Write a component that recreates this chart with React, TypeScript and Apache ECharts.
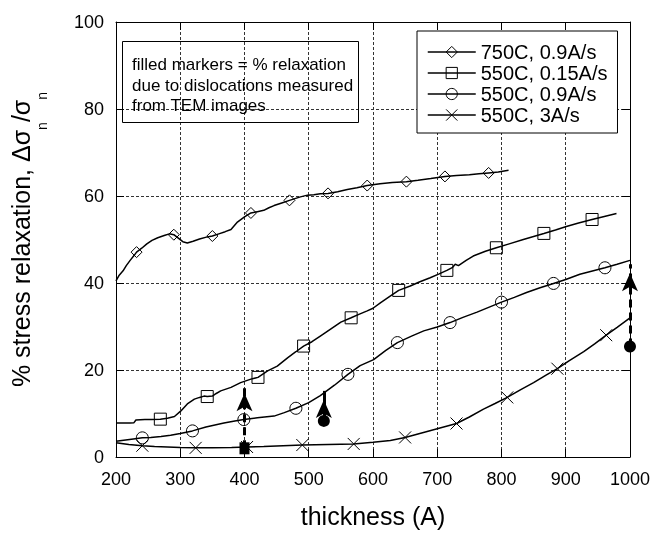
import React, { useEffect, useRef } from 'react';
import * as echarts from 'echarts';

const FONT = 'Liberation Sans, Arial, Helvetica, sans-serif';

// axes
const xMin = 200, xMax = 1000, xStep = 100;
const yMin = 0, yMax = 100, yStep = 20;
const xTitle = 'thickness (A)';
const yTitleRich = '{a|% stress relaxation, Δσ}{s|n}{a|/σ}{s|n}';

const seriesNames = ['750C, 0.9A/s', '550C, 0.15A/s', '550C, 0.9A/s', '550C, 3A/s'];
const seriesSymbols = ['diamond', 'rect', 'circle', 'path://M0,0L12,12M12,0L0,12'];
const seriesSymbolSizes = [11, 12, 12, 12];

// 750C, 0.9A/s
const curve750: number[][] = [
  [200, 40.5], [205, 41.8], [211, 42.8], [216, 44.0], [222, 45.2], [228, 46.3], [232, 47.1], [240, 48.0],
  [248, 49.0], [256, 49.8], [265, 50.4], [275, 50.9], [283, 51.3], [290, 51.1], [297, 50.3], [304, 49.5],
  [311, 49.2], [320, 49.6], [330, 50.1], [342, 50.6], [350, 50.8], [360, 51.3], [370, 51.8], [379, 52.3],
  [389, 54.0], [400, 55.2], [410, 56.1], [420, 56.4], [430, 56.7], [438, 57.3], [446, 57.8], [458, 58.4],
  [470, 59.0], [487, 59.8], [498, 60.2], [508, 60.3], [518, 60.5], [530, 60.6], [545, 61.0], [560, 61.5],
  [575, 61.9], [591, 62.4], [611, 62.8], [630, 63.1], [652, 63.3], [670, 63.6], [690, 64.0], [712, 64.5],
  [730, 64.7], [750, 64.9], [765, 65.1], [780, 65.3], [795, 65.5], [811, 65.9],
];
const markers750: number[][] = [
  [232, 47.1], [290, 51.1], [350, 50.8], [410, 56.1], [470, 59.0], [530, 60.6], [591, 62.4], [652, 63.3],
  [712, 64.5], [780, 65.3],
];

// 550C, 0.15A/s
const curve550slow: number[][] = [
  [200, 7.8], [210, 7.8], [222, 7.8], [228, 7.9], [231, 8.5], [245, 8.6], [255, 8.6], [269, 8.7], [280, 8.9],
  [291, 9.3], [301, 10.6], [311, 12.2], [322, 13.3], [330, 13.7], [337, 14.0], [342, 13.9], [350, 14.0],
  [356, 14.6], [363, 15.2], [379, 16.0], [394, 17.1], [410, 17.9], [421, 18.3], [436, 19.8], [451, 20.9],
  [467, 22.8], [480, 24.2], [492, 25.5], [505, 26.5], [518, 27.8], [534, 29.4], [550, 31.0], [566, 32.0],
  [578, 32.8], [591, 33.6], [600, 34.2], [612, 35.5], [625, 36.8], [640, 38.3], [658, 39.3], [673, 40.3],
  [689, 41.2], [703, 42.1], [715, 42.9], [724, 43.6], [728, 44.3], [733, 44.0], [745, 45.2], [756, 46.2],
  [775, 47.3], [792, 48.1], [812, 49.0], [834, 50.0], [850, 50.7], [866, 51.4], [884, 52.2], [901, 53.0],
  [920, 53.8], [941, 54.6], [960, 55.3], [979, 56.0],
];
const markers550slow: number[][] = [
  [269, 8.7], [342, 13.9], [421, 18.3], [492, 25.5], [566, 32.0], [640, 38.3], [715, 42.9], [792, 48.1],
  [866, 51.4], [941, 54.6],
];

// 550C, 0.9A/s
const curve550mid: number[][] = [
  [200, 3.6], [215, 3.9], [230, 4.2], [241, 4.4], [254, 4.5], [270, 4.7], [285, 5.0], [300, 5.4], [319, 6.0],
  [340, 6.9], [368, 7.8], [385, 8.3], [399, 8.6], [420, 9.0], [446, 9.4], [462, 10.2], [480, 11.2],
  [500, 12.5], [518, 14.1], [540, 16.5], [561, 19.0], [580, 21.0], [601, 22.4], [620, 24.5], [638, 26.3],
  [660, 27.8], [679, 29.0], [700, 29.9], [720, 30.9], [740, 32.1], [762, 33.3], [780, 34.4], [800, 35.6],
  [820, 36.7], [839, 37.8], [860, 38.9], [881, 39.9], [900, 40.8], [922, 42.0], [940, 42.7], [961, 43.5],
  [980, 44.3], [1000, 45.2],
];
const markers550mid: number[][] = [
  [241, 4.4], [319, 6.0], [399, 8.6], [480, 11.2], [561, 19.0], [638, 26.3], [720, 30.9], [800, 35.6],
  [881, 39.9], [961, 43.5],
];

// 550C, 3A/s
const curve550fast: number[][] = [
  [200, 3.3], [220, 2.9], [241, 2.6], [260, 2.4], [280, 2.3], [300, 2.2], [324, 2.1], [350, 2.1], [380, 2.2],
  [404, 2.3], [430, 2.4], [460, 2.6], [490, 2.75], [530, 2.9], [570, 3.0], [600, 3.4], [627, 3.8],
  [650, 4.5], [670, 5.3], [690, 6.1], [710, 6.9], [730, 7.7], [750, 9.2], [772, 11.0], [790, 12.3],
  [809, 13.7], [830, 15.5], [850, 17.1], [870, 18.9], [887, 20.3], [905, 22.1], [928, 24.2], [945, 26.0],
  [963, 28.0], [980, 29.8], [1000, 32.0],
];
const markers550fast: number[][] = [
  [241, 2.6], [324, 2.1], [404, 2.3], [490, 2.75], [570, 3.0], [650, 4.5], [730, 7.7], [809, 13.7],
  [887, 20.3], [963, 28.0],
];

const curves = [curve750, curve550slow, curve550mid, curve550fast];
const markerSets = [markers750, markers550slow, markers550mid, markers550fast];

// TEM annotations: filled marker positions and arrow tips
const temSquare: number[][] = [[400, 2.0]];
const temCircles: number[][] = [[523.5, 8.3], [1000, 25.4]];
const arrowStarts: number[][] = [[400, 2.0], [523.5, 8.3], [1000, 25.4]];
const arrowTips: number[][] = [[400, 16.7], [523.5, 15.2], [1000, 44.3]];
const arrowDashed = [true, false, true];

const noteText = 'filled markers = % relaxation\ndue to dislocations measured\nfrom TEM images';

export default function App() {
  const ref = useRef<HTMLDivElement>(null);
  useEffect(() => {
    if (!ref.current) return;
    const chart = echarts.init(ref.current, null, { renderer: 'svg' });

    const axisLine = { show: true, onZero: false, lineStyle: { color: '#000', width: 1 } };
    const axisTick = { show: true, inside: true, length: 8, lineStyle: { color: '#000', width: 1 } };
    const splitLine = { show: true, lineStyle: { color: '#333', width: 1, type: [3, 2] } };

    const lineSeries = seriesNames.map((name, i) => ({
      type: 'line',
      name,
      data: curves[i],
      symbol: seriesSymbols[i],
      symbolSize: seriesSymbolSizes[i],
      showSymbol: false,
      smooth: false,
      lineStyle: { color: '#000', width: 1.5 },
      itemStyle: { color: 'rgba(0,0,0,0)', borderColor: '#000', borderWidth: 1 },
      emphasis: { disabled: true },
      silent: true,
      z: 2,
    }));

    const markerSeries = seriesNames.map((name, i) => ({
      type: 'scatter',
      name: name + ' markers',
      data: markerSets[i],
      symbol: seriesSymbols[i],
      symbolSize: seriesSymbolSizes[i],
      itemStyle: { color: 'rgba(0,0,0,0)', borderColor: '#000', borderWidth: 1, opacity: 1 },
      emphasis: { disabled: true },
      silent: true,
      clip: false,
      z: 3,
    }));

    const arrowLines = arrowStarts.map((s, i) => {
      const ls = { color: '#000', width: 3, type: arrowDashed[i] ? [8, 5] : 'solid' };
      return [
        { coord: s, lineStyle: ls },
        { coord: arrowTips[i], lineStyle: ls },
      ];
    });

    const option: any = {
      animation: false,
      textStyle: { fontFamily: FONT, color: '#000' },
      grid: { left: 115, right: 22, top: 22, bottom: 75, containLabel: false },
      xAxis: [
        {
          type: 'value', position: 'bottom', min: xMin, max: xMax, interval: xStep,
          axisLine, axisTick,
          axisLabel: { fontSize: 18, color: '#000', margin: 13, fontFamily: FONT, formatter: (v: number) => String(v) },
          splitLine,
          name: xTitle, nameLocation: 'middle', nameGap: 46,
          nameTextStyle: { fontSize: 25, color: '#000', fontFamily: FONT },
        },
        {
          type: 'value', position: 'top', min: xMin, max: xMax, interval: xStep,
          axisLine, axisTick, axisLabel: { show: false }, splitLine: { show: false },
        },
      ],
      yAxis: [
        {
          type: 'value', position: 'left', min: yMin, max: yMax, interval: yStep,
          axisLine, axisTick,
          axisLabel: { fontSize: 18, color: '#000', margin: 12, fontFamily: FONT, formatter: (v: number) => String(v) },
          splitLine,
          name: yTitleRich, nameLocation: 'middle', nameGap: 78,
          nameTextStyle: {
            fontSize: 25, color: '#000', fontFamily: FONT,
            rich: {
              a: { fontSize: 25, lineHeight: 30, verticalAlign: 'top', color: '#000', fontFamily: FONT },
              s: { fontSize: 14, lineHeight: 14, padding: [27, 0, 0, 0], verticalAlign: 'top', color: '#000', fontFamily: FONT },
            },
          },
        },
        {
          type: 'value', position: 'right', min: yMin, max: yMax, interval: yStep,
          axisLine, axisTick, axisLabel: { show: false }, splitLine: { show: false },
        },
      ],
      legend: {
        data: seriesNames,
        orient: 'vertical',
        left: 417, top: 31,
        padding: [11, 10, 8, 10],
        itemGap: 1,
        itemWidth: 48, itemHeight: 14,
        backgroundColor: '#fff',
        borderColor: '#000', borderWidth: 1, borderRadius: 0,
        selectedMode: false,
        textStyle: { fontSize: 20, color: '#000', fontFamily: FONT },
        itemStyle: { color: 'rgba(0,0,0,0)', borderColor: '#000', borderWidth: 1 },
        lineStyle: { color: '#000', width: 1.5 },
      },
      graphic: [
        {
          type: 'rect', z: 10,
          shape: { x: 122.5, y: 41.5, width: 236, height: 81 },
          style: { fill: 'none', stroke: '#000', lineWidth: 1 },
          silent: true,
        },
        {
          type: 'text', z: 10, x: 132, y: 54.5,
          style: { text: noteText, font: '17px ' + FONT, fill: '#000', lineHeight: 20.5, verticalAlign: 'top' },
          silent: true,
        },
      ],
      series: [
        ...lineSeries,
        ...markerSeries,
        {
          type: 'scatter', name: 'TEM square', data: temSquare, symbol: 'rect', symbolSize: [10, 12],
          itemStyle: { color: '#000', opacity: 1 }, silent: true, clip: false, z: 5,
          markLine: {
            silent: true, animation: false,
            symbol: ['none', 'arrow'], symbolSize: [12, 18],
            symbolOffset: [[0, 0], [0, 9]],
            label: { show: false },
            emphasis: { disabled: true },
            data: arrowLines,
          },
        },
        {
          type: 'scatter', name: 'TEM circles', data: temCircles, symbol: 'circle', symbolSize: 12,
          itemStyle: { color: '#000', opacity: 1 }, silent: true, clip: false, z: 5,
        },
      ],
    };

    chart.setOption(option);
    return () => chart.dispose();
  }, []);

  return <div ref={ref} style={{ position: 'fixed', left: 0, top: 0, width: 653, height: 533 }} />;
}
